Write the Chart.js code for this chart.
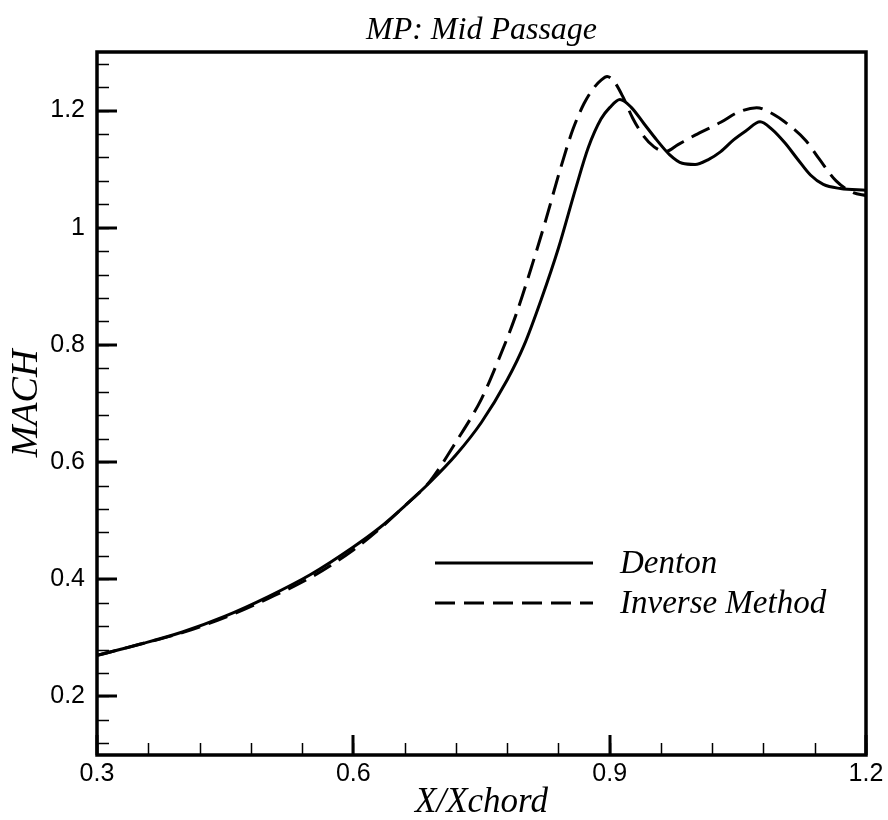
<!DOCTYPE html>
<html>
<head>
<meta charset="utf-8">
<script src="https://cdn.jsdelivr.net/npm/chart.js@4.4.1/dist/chart.umd.min.js"></script>
<style>
html,body{margin:0;padding:0;background:#ffffff;}
#wrap{width:888px;height:820px;}
</style>
</head>
<body>
<div id="wrap"><canvas id="c" width="888" height="820"></canvas></div>
<script>
// ---- data ----
const dentonX = [0.30,0.35,0.40,0.45,0.50,0.55,0.60,0.63,0.66,0.69,0.72,0.75,0.78,0.80,0.82,0.84,0.86,0.875,0.89,0.90,0.912,0.925,0.94,0.955,0.97,0.985,1.00,1.015,1.03,1.045,1.06,1.076,1.09,1.105,1.12,1.135,1.15,1.17,1.20];
const dentonY = [0.270,0.289,0.310,0.337,0.370,0.408,0.455,0.487,0.525,0.566,0.612,0.668,0.740,0.800,0.878,0.965,1.066,1.137,1.186,1.205,1.219,1.206,1.178,1.150,1.125,1.110,1.108,1.116,1.130,1.150,1.166,1.181,1.168,1.145,1.117,1.090,1.074,1.067,1.064];
const inverseX = [0.30,0.35,0.40,0.45,0.50,0.55,0.60,0.63,0.66,0.69,0.72,0.75,0.77,0.79,0.81,0.825,0.842,0.857,0.87,0.881,0.89,0.897,0.905,0.915,0.927,0.94,0.952,0.965,0.98,1.00,1.03,1.05,1.072,1.09,1.11,1.13,1.145,1.165,1.185,1.20];
const inverseY = [0.270,0.289,0.309,0.335,0.367,0.403,0.450,0.485,0.525,0.568,0.634,0.708,0.775,0.850,0.940,1.012,1.099,1.168,1.212,1.238,1.252,1.258,1.250,1.225,1.187,1.156,1.138,1.130,1.142,1.158,1.180,1.197,1.205,1.195,1.175,1.148,1.118,1.080,1.060,1.055];
const seriesNames = ['Denton', 'Inverse Method'];
const xMajorTicks = [0.3, 0.6, 0.9, 1.2];
const yMajorTicks = [0.2, 0.4, 0.6, 0.8, 1.0, 1.2];
const xMinorStep = 0.06;
const yMinorStep = 0.04;
const chartTitle = 'MP: Mid Passage';
const xAxisTitle = 'X/Xchord';
const yAxisTitle = 'MACH';

const toPoints = (xs, ys) => xs.map((x, i) => ({x: x, y: ys[i]}));
const serif = "'Liberation Serif', 'Times New Roman', serif";
const sans = "'Liberation Sans', Arial, sans-serif";
const dashPattern = [20, 9];

const fmt = v => {
  const r = Math.round(v * 10) / 10;
  return (r === 1) ? '1' : r.toFixed(1);
};

// frame + inward tick marks
const framePlugin = {
  id: 'frameTicks',
  afterDraw(chart) {
    const {ctx, chartArea: a, scales: {x, y}} = chart;
    ctx.save();
    ctx.strokeStyle = '#000';
    ctx.lineWidth = 1.5;
    ctx.beginPath();
    for (let v = x.min; v <= x.max + 1e-9; v += xMinorStep) {
      const px = Math.round(x.getPixelForValue(v)) + 0.5;
      ctx.moveTo(px, a.bottom);
      ctx.lineTo(px, a.bottom - 12);
    }
    for (let v = y.min + yMinorStep / 2; v <= y.max + 1e-9; v += yMinorStep) {
      const vv = Math.round(v / yMinorStep) * yMinorStep;
      const py = Math.round(y.getPixelForValue(vv)) + 0.5;
      ctx.moveTo(a.left, py);
      ctx.lineTo(a.left + 12, py);
    }
    ctx.stroke();
    ctx.lineWidth = 3;
    ctx.beginPath();
    xMajorTicks.forEach(v => {
      const px = Math.round(x.getPixelForValue(v));
      ctx.moveTo(px, a.bottom);
      ctx.lineTo(px, a.bottom - 20);
    });
    yMajorTicks.forEach(v => {
      const py = Math.round(y.getPixelForValue(v));
      ctx.moveTo(a.left, py);
      ctx.lineTo(a.left + 20, py);
    });
    ctx.stroke();
    ctx.lineWidth = 3.5;
    ctx.strokeRect(a.left, a.top, a.right - a.left, a.bottom - a.top);
    ctx.restore();
  }
};

// in-plot legend
const legendPlugin = {
  id: 'inplotLegend',
  afterDatasetsDraw(chart) {
    const {ctx} = chart;
    const x0 = 435, x1 = 593, tx = 620;
    const rows = [563, 603];
    ctx.save();
    chart.data.datasets.forEach((ds, i) => {
      const yy = rows[i];
      ctx.strokeStyle = ds.borderColor;
      ctx.lineWidth = ds.borderWidth;
      ctx.setLineDash(ds.borderDash || []);
      ctx.beginPath();
      ctx.moveTo(x0, yy);
      ctx.lineTo(x1, yy);
      ctx.stroke();
      ctx.setLineDash([]);
      ctx.fillStyle = '#000';
      ctx.font = 'italic 33px ' + serif;
      ctx.textBaseline = 'alphabetic';
      ctx.textAlign = 'left';
      ctx.fillText(ds.label, tx, yy + 10);
    });
    ctx.restore();
  }
};

new Chart(document.getElementById('c'), {
  type: 'scatter',
  data: {
    datasets: [
      {
        label: seriesNames[0],
        data: toPoints(dentonX, dentonY),
        showLine: true,
        borderColor: '#000',
        backgroundColor: '#000',
        borderWidth: 3,
        pointRadius: 0,
        cubicInterpolationMode: 'monotone'
      },
      {
        label: seriesNames[1],
        data: toPoints(inverseX, inverseY),
        showLine: true,
        borderColor: '#000',
        backgroundColor: '#000',
        borderWidth: 3,
        borderDash: dashPattern,
        pointRadius: 0,
        cubicInterpolationMode: 'monotone'
      }
    ]
  },
  options: {
    responsive: false,
    animation: false,
    devicePixelRatio: 1,
    layout: {padding: {left: 0, right: 22, top: 0, bottom: 0}},
    plugins: {
      legend: {display: false},
      tooltip: {enabled: false},
      title: {
        display: true,
        text: chartTitle,
        fullSize: false,
        color: '#000',
        font: {family: serif, size: 32, style: 'italic', weight: 'normal', lineHeight: 1.2},
        padding: {top: 11, bottom: 2.6}
      }
    },
    scales: {
      x: {
        type: 'linear',
        min: 0.3,
        max: 1.2,
        afterBuildTicks: s => { s.ticks = xMajorTicks.map(v => ({value: v})); },
        afterFit: s => { s.height = 65; },
        grid: {display: false, drawTicks: false},
        border: {display: false},
        ticks: {
          color: '#000',
          padding: 4,
          maxRotation: 0,
          font: {family: sans, size: 25},
          callback: v => fmt(v)
        },
        title: {
          display: true,
          text: xAxisTitle,
          color: '#000',
          font: {family: serif, size: 35, style: 'italic', weight: 'normal', lineHeight: 1.2},
          padding: {top: 0, bottom: -4}
        }
      },
      y: {
        type: 'linear',
        min: 0.1,
        max: 1.3,
        afterBuildTicks: s => { s.ticks = yMajorTicks.map(v => ({value: v})); },
        afterFit: s => { s.width = 97; },
        grid: {display: false, drawTicks: false},
        border: {display: false},
        ticks: {
          color: '#000',
          padding: 12,
          font: {family: sans, size: 25},
          callback: v => fmt(v)
        },
        title: {
          display: true,
          text: yAxisTitle,
          color: '#000',
          font: {family: serif, size: 38, style: 'italic', weight: 'normal', lineHeight: 1.2},
          padding: {top: 4, bottom: 0}
        }
      }
    }
  },
  plugins: [framePlugin, legendPlugin]
});
</script>
</body>
</html>
